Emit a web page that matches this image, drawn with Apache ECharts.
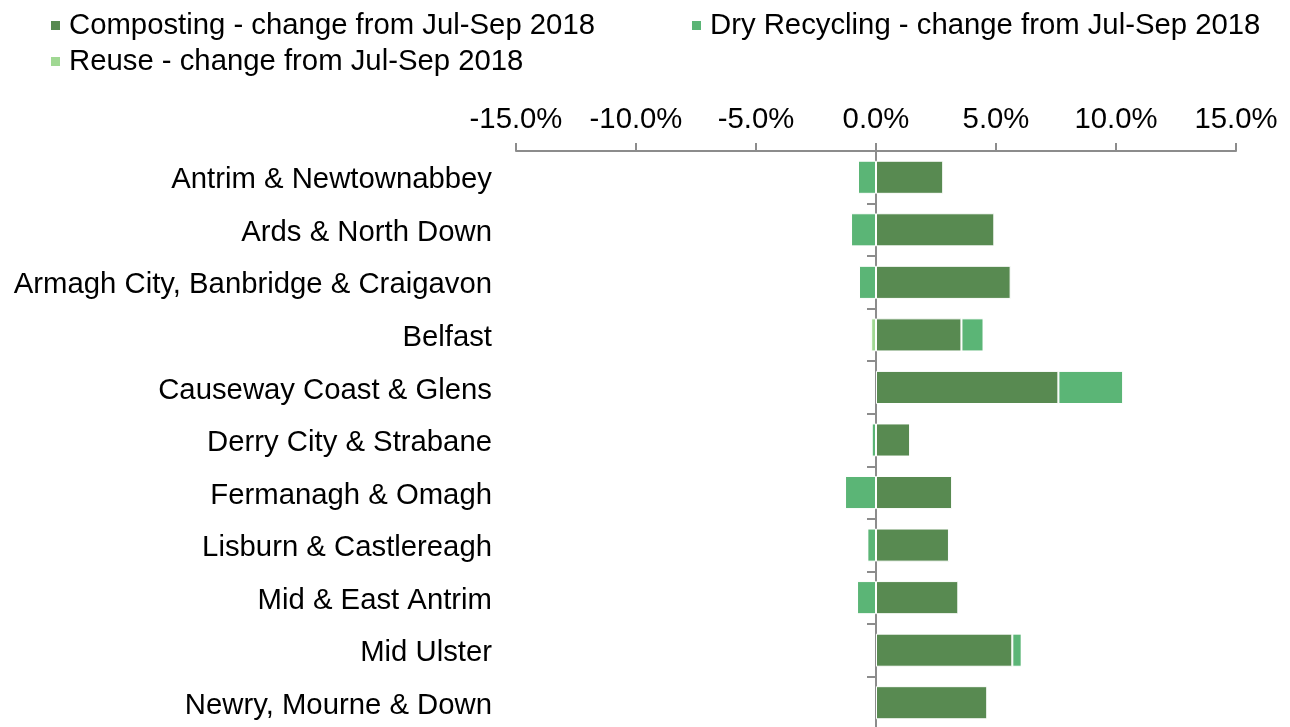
<!DOCTYPE html>
<html>
<head>
<meta charset="utf-8">
<script src="https://cdn.jsdelivr.net/npm/echarts@6/dist/echarts.min.js"></script>
<style>
  html, body { margin: 0; padding: 0; background: #fff; }
  #chart { width: 1290px; height: 727px; }
</style>
</head>
<body>
<div id="chart"></div>
<script>
const councils = [
  'Antrim & Newtownabbey',
  'Ards & North Down',
  'Armagh City, Banbridge & Craigavon',
  'Belfast',
  'Causeway Coast & Glens',
  'Derry City & Strabane',
  'Fermanagh & Omagh',
  'Lisburn & Castlereagh',
  'Mid & East Antrim',
  'Mid Ulster',
  'Newry, Mourne & Down'
];
const composting = [2.8, 4.93, 5.61, 3.56, 7.6, 1.42, 3.17, 3.04, 3.43, 5.68, 4.64];
const dryRecycling = [-0.75, -1.04, -0.71, 0.92, 2.7, -0.18, -1.29, -0.36, -0.79, 0.39, 0];
const reuse = [0, 0, 0, -0.2, 0, 0, 0, 0, 0, 0, 0];

const seriesNames = [
  'Composting - change from Jul-Sep 2018',
  'Dry Recycling - change from Jul-Sep 2018',
  'Reuse - change from Jul-Sep 2018'
];
const colors = ['#588a51', '#5bb576', '#a0d893'];

const font = 'Liberation Sans, Arial, sans-serif';
const chart = echarts.init(document.getElementById('chart'));

const makeSeries = (name, data, color) => ({
  name: name,
  type: 'bar',
  stack: 'total',
  data: data,
  barWidth: '63%',
  itemStyle: { color: color, borderColor: '#fff', borderWidth: 1 },
  emphasis: { disabled: true }
});

const legendBase = {
  left: 49,
  padding: 0,
  itemWidth: 11,
  itemHeight: 11,
  itemGap: 95,
  icon: 'rect',
  textStyle: { fontFamily: font, fontSize: 29.3, color: '#000', padding: [0, 0, 0, 3] }
};

chart.setOption({
  animation: false,
  color: colors,
  legend: [
    Object.assign({}, legendBase, { top: 11, data: [seriesNames[0], seriesNames[1]] }),
    Object.assign({}, legendBase, { top: 47, data: [seriesNames[2]] })
  ],
  grid: { left: 516, right: 54, top: 151, height: 578, containLabel: false, outerBoundsMode: 'none' },
  xAxis: {
    type: 'value',
    position: 'top',
    min: -15,
    max: 15,
    interval: 5,
    splitLine: { show: false },
    axisLine: { show: true, lineStyle: { color: '#8c8c8c', width: 2 } },
    axisTick: { show: true, length: 8, lineStyle: { color: '#8c8c8c', width: 2 } },
    axisLabel: {
      margin: 17,
      fontFamily: font,
      fontSize: 29.3,
      color: '#000',
      formatter: (v) => v.toFixed(1) + '%'
    }
  },
  yAxis: {
    type: 'category',
    inverse: true,
    data: councils,
    axisLine: { show: true, onZero: true, lineStyle: { color: '#8c8c8c', width: 2 } },
    axisTick: { show: true, length: 9, lineStyle: { color: '#8c8c8c', width: 2 } },
    axisLabel: {
      margin: 24,
      formatter: (v) => '{c|' + v + '}',
      rich: {
        c: { fontFamily: font, fontSize: 29.3, color: '#000', padding: [6, 0, 0, 0] }
      }
    }
  },
  series: [
    makeSeries(seriesNames[0], composting, colors[0]),
    makeSeries(seriesNames[1], dryRecycling, colors[1]),
    makeSeries(seriesNames[2], reuse, colors[2])
  ]
});
window.addEventListener('resize', chart.resize);
</script>
</body>
</html>
